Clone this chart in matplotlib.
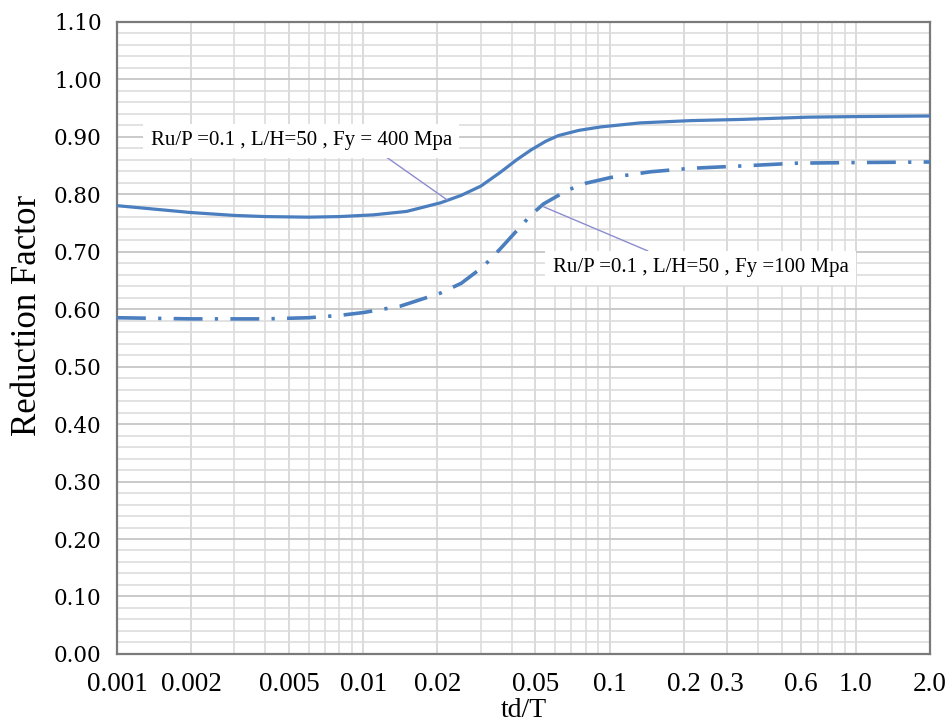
import matplotlib
matplotlib.use("Agg")
import matplotlib.pyplot as plt
from matplotlib.ticker import FixedLocator, LogLocator, MultipleLocator, NullFormatter

# ---- data ----
x_fy400 = [0.001, 0.002, 0.003, 0.004, 0.006, 0.008, 0.011, 0.015, 0.0206, 0.025,
           0.030, 0.036, 0.042, 0.048, 0.055, 0.062, 0.075, 0.092, 0.133, 0.214,
           0.34, 0.64, 1.0, 2.0]
y_fy400 = [0.780, 0.768, 0.763, 0.761, 0.760, 0.761, 0.764, 0.770, 0.785, 0.798,
           0.814, 0.838, 0.860, 0.877, 0.892, 0.902, 0.911, 0.917, 0.924, 0.928,
           0.930, 0.934, 0.935, 0.936]

x_fy100 = [0.001, 0.002, 0.004, 0.006, 0.008, 0.010, 0.0141, 0.0206, 0.025, 0.0307,
           0.036, 0.0423, 0.048, 0.0539, 0.0675, 0.080, 0.101, 0.147, 0.214, 0.34,
           0.58, 1.0, 2.0]
y_fy100 = [0.585, 0.583, 0.583, 0.585, 0.589, 0.594, 0.605, 0.628, 0.645, 0.674,
           0.705, 0.738, 0.764, 0.783, 0.807, 0.819, 0.829, 0.839, 0.845, 0.849,
           0.854, 0.855, 0.856]

x_ticks = [0.001, 0.002, 0.005, 0.01, 0.02, 0.05, 0.1, 0.2, 0.3, 0.6, 1.0, 2.0]
x_tick_labels = ["0.001", "0.002", "0.005", "0.01", "0.02", "0.05", "0.1",
                 "0.2", "0.3", "0.6", "1.0", "2.0"]
y_ticks = [0.0, 0.1, 0.2, 0.3, 0.4, 0.5, 0.6, 0.7, 0.8, 0.9, 1.0, 1.1]

label_fy400 = "Ru/P =0.1 , L/H=50 , Fy = 400 Mpa"
label_fy100 = "Ru/P =0.1 , L/H=50 , Fy =100 Mpa"

line_color = "#4a7ebf"

fig = plt.figure(figsize=(9.51, 7.25), dpi=100)
ax = fig.add_axes([0.123, 0.098, 0.855, 0.872])

ax.set_xscale("log")
ax.set_xlim(0.001, 2.0)
ax.set_ylim(0.0, 1.10)

# grid
ax.xaxis.set_minor_locator(LogLocator(base=10, subs=range(2, 10), numticks=20))
ax.xaxis.set_minor_formatter(NullFormatter())
ax.yaxis.set_minor_locator(MultipleLocator(0.02))
ax.set_axisbelow(True)
ax.grid(which="minor", color="#dddddd", linewidth=1.2)
ax.grid(which="major", axis="y", color="#c6c6c6", linewidth=1.3)
ax.grid(which="major", axis="x", color="#d4d4d4", linewidth=1.2)

ax.plot(x_fy400, y_fy400, color=line_color, linewidth=2.3, solid_capstyle="butt",
        solid_joinstyle="round", zorder=3)
ax.plot(x_fy100, y_fy100, color=line_color, linewidth=2.6,
        linestyle=(0, (8.0, 3.4, 0.9, 3.4)), dash_capstyle="butt", zorder=3)

ax.xaxis.set_major_locator(FixedLocator(x_ticks))
ax.set_xticklabels(x_tick_labels, fontfamily="Liberation Serif", fontsize=19.5)
ax.set_yticks(y_ticks)
ax.set_yticklabels([f"{v:.2f}" for v in y_ticks], fontfamily="DejaVu Serif", fontsize=15.5)
ax.tick_params(which="both", length=0)
ax.tick_params(axis="x", pad=13)
ax.tick_params(axis="y", pad=11)

for s in ax.spines.values():
    s.set_color("#7a7a7a")
    s.set_linewidth(1.6)

ax.set_ylabel("Reduction Factor", fontfamily="Liberation Serif", fontsize=25)
ax.yaxis.set_label_coords(-0.090, 0.536)
ax.set_xlabel("td/T", fontfamily="Liberation Serif", fontsize=20, labelpad=1)

box = dict(boxstyle="square,pad=0.35", fc="white", ec="none")
ax.annotate(label_fy400, xy=(0.0219, 0.790), xytext=(0.0056, 0.893),
            ha="center", va="center", fontfamily="Liberation Serif", fontsize=15,
            bbox=box, zorder=5,
            arrowprops=dict(arrowstyle="-", color="#8c8cd0", linewidth=1.0,
                            relpos=(0.75, 0.0), shrinkA=0, shrinkB=0))
ax.annotate(label_fy100, xy=(0.054, 0.778), xytext=(0.234, 0.672),
            ha="center", va="center", fontfamily="Liberation Serif", fontsize=15,
            bbox=box, zorder=5,
            arrowprops=dict(arrowstyle="-", color="#8c8cd0", linewidth=1.0,
                            relpos=(0.38, 1.0), shrinkA=0, shrinkB=0))

fig.savefig("out.png", dpi=100)
